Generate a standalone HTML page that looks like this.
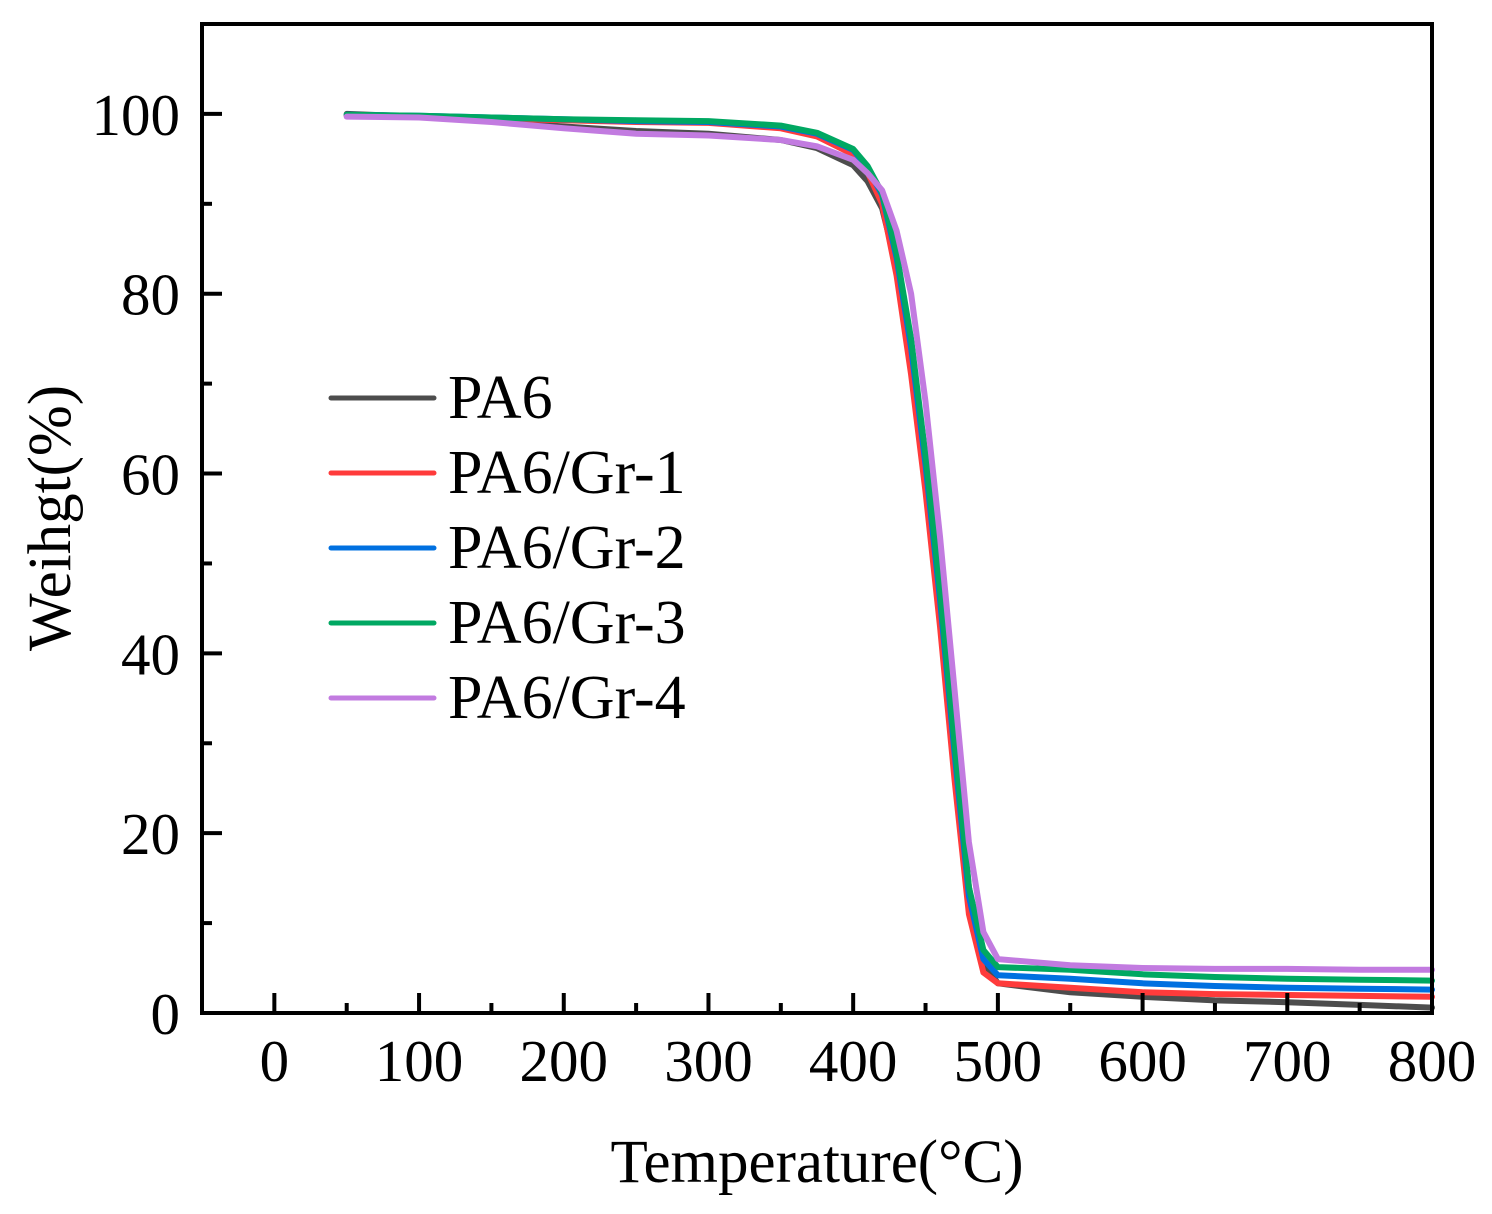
<!DOCTYPE html>
<html><head><meta charset="utf-8"><style>
html,body{margin:0;padding:0;background:#fff;}
svg text{font-family:"Liberation Serif",serif;fill:#000;}
</style></head><body>
<svg id="chart" width="1492" height="1209" viewBox="0 0 1492 1209" xmlns="http://www.w3.org/2000/svg">
<g id="series"></g>
<g id="axes"></g>
<g id="legend"></g>
</svg>
<script>
const temps = [50,100,150,200,250,300,350,375,400,410,420,430,440,450,460,470,480,490,500,550,600,650,700,750,800];
const pa6  = [100,99.7,99.2,98.6,98.1,97.8,97.1,96.2,94.3,92.5,89.5,83,74,62,47,30,14,5.5,3.3,2.3,1.8,1.4,1.2,0.9,0.6];
const gr1  = [99.8,99.7,99.5,99.3,99.1,99,98.4,97.5,95.5,93.5,90,82,71,58,43,26,11,4.5,3.3,2.8,2.3,2.1,2,1.9,1.8];
const gr2  = [99.9,99.8,99.6,99.4,99.2,99.1,98.6,97.8,96,94,91,84,74,61,46,29,13,6,4.2,3.8,3.3,3,2.8,2.7,2.6];
const gr3  = [99.9,99.8,99.6,99.4,99.3,99.2,98.7,97.9,96.1,94.2,91.2,84.5,75,62,47,30,14,7,5.1,4.8,4.3,4,3.8,3.7,3.6];
const gr4  = [99.7,99.6,99.1,98.4,97.8,97.6,97.1,96.4,94.9,93.4,91.5,87,80,68,53,36,19,9,6,5.3,5,4.9,4.9,4.8,4.8];
const seriesNames = ["PA6","PA6/Gr-1","PA6/Gr-2","PA6/Gr-3","PA6/Gr-4"];
const xTicks = [0,100,200,300,400,500,600,700,800];
const yTicks = [0,20,40,60,80,100];

const colors = ["#4d4d4d","#ff3b3b","#0070e0","#00a862","#c27be0"];
const L=202,R=1432,T=24,B=1013;
const xMin=-50,xMax=800,yMin=0,yMax=110;
const xs=v=>L+(v-xMin)/(xMax-xMin)*(R-L);
const ys=v=>B-(v-yMin)/(yMax-yMin)*(B-T);
const NS="http://www.w3.org/2000/svg";
function mk(tag,attrs,parent){const e=document.createElementNS(NS,tag);for(const k in attrs)e.setAttribute(k,attrs[k]);parent.appendChild(e);return e;}

const sg=document.getElementById('series');
const all=[pa6,gr1,gr2,gr3,gr4];
all.forEach((vals,i)=>{
  const d=temps.map((t,j)=>(j?'L':'M')+xs(t).toFixed(1)+','+ys(vals[j]).toFixed(1)).join(' ');
  const p=mk('path',{d:d,fill:'none',stroke:colors[i],'stroke-width':6,'stroke-linejoin':'round','stroke-linecap':'round'},sg);
  
  
});

const ag=document.getElementById('axes');
const frame=mk('rect',{x:L,y:T,width:R-L,height:B-T,fill:'none',stroke:'#000','stroke-width':4},ag);


for(let v=-50;v<=800;v+=50){
  const major=v%100===0;
  const t=mk('line',{x1:xs(v),x2:xs(v),y1:B,y2:B-(major?20:10),stroke:'#000','stroke-width':4},ag);
  
  
}
xTicks.forEach(v=>{
  const t=mk('text',{x:xs(v),y:1081,'text-anchor':'middle','font-size':59},ag);
  t.textContent=v;
  
  
});
for(let v=0;v<=110;v+=10){
  const major=v%20===0;
  const t=mk('line',{x1:L,x2:L+(major?20:10),y1:ys(v),y2:ys(v),stroke:'#000','stroke-width':4},ag);
  
  
}
yTicks.forEach(v=>{
  const t=mk('text',{x:180,y:ys(v)+21,'text-anchor':'end','font-size':59},ag);
  t.textContent=v;
  
  
});
const xt=mk('text',{x:817,y:1182,'text-anchor':'middle','font-size':61},ag);
xt.textContent='Temperature(°C)';


const yt=mk('text',{x:0,y:0,'text-anchor':'middle','font-size':61,transform:'translate(70,518) rotate(-90)'},ag);
yt.textContent='Weihgt(%)';



const lg=document.getElementById('legend');
seriesNames.forEach((n,i)=>{
  const y=398+i*75;
  const ln=mk('line',{x1:331,x2:434,y1:y,y2:y,stroke:colors[i],'stroke-width':5,'stroke-linecap':'round'},lg);
  
  
  const tx=mk('text',{x:448,y:y+20,'font-size':62},lg);
  tx.textContent=n;
  
  
});
</script>
</body></html>
